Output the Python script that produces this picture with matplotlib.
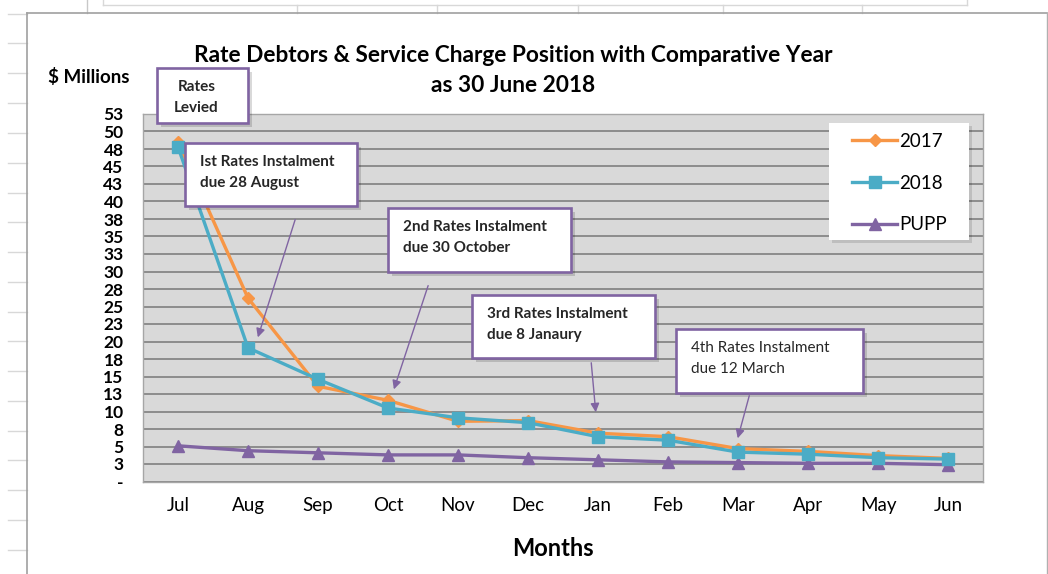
import matplotlib
matplotlib.use("Agg")
import matplotlib.pyplot as plt
from matplotlib.patches import Rectangle, FancyArrowPatch
from matplotlib.lines import Line2D
from matplotlib.ticker import FuncFormatter, MultipleLocator

# Data ($ millions)
months = ["Jul", "Aug", "Sep", "Oct", "Nov", "Dec", "Jan", "Feb", "Mar", "Apr", "May", "Jun"]
debt_2017 = [48.5, 26.2, 13.6, 11.6, 8.6, 8.7, 6.9, 6.4, 4.7, 4.3, 3.7, 3.3]
debt_2018 = [47.8, 19.1, 14.6, 10.5, 9.1, 8.4, 6.4, 5.9, 4.2, 3.9, 3.4, 3.2]
pupp = [5.1, 4.4, 4.1, 3.8, 3.8, 3.4, 3.1, 2.8, 2.7, 2.6, 2.6, 2.4]

colors = {
    '2017': '#F79646',
    '2018': '#4BACC6',
    'pupp': '#8064A2',
    'plotbg': '#D9D9D9',
    'grid': '#8C8C8C',
    'sheet': '#C8C8C8',
}

plt.rcParams['font.family'] = ['Lato', 'DejaVu Sans']

W, H = 1048, 574
fig = plt.figure(figsize=(W / 100, H / 100), dpi=100)


def px(x, y):
    # pixel position -> figure fraction
    return (x / W, 1 - y / H)


# spreadsheet cell lines behind the chart
for yy in [14, 43, 73, 103, 133, 163, 193, 222, 252, 282, 312, 341, 371, 401, 431, 460, 490, 520, 550]:
    fig.add_artist(Line2D([8 / W, 27 / W], [1 - yy / H] * 2, color='#D8D8D8', lw=1))
fig.add_artist(Line2D([87 / W] * 2, [1, 1 - 13 / H], color=colors['sheet'], lw=1))
fig.add_artist(Line2D([103 / W, 967 / W], [1 - 5 / H] * 2, color='#D8D8D8', lw=1))
fig.add_artist(Line2D([103 / W] * 2, [1, 1 - 5 / H], color='#D8D8D8', lw=1))
fig.add_artist(Line2D([967 / W] * 2, [1, 1 - 5 / H], color='#D8D8D8', lw=1))
for xx in [297, 437, 578, 723, 862]:
    fig.add_artist(Line2D([xx / W] * 2, [1 - 5 / H, 1 - 13 / H], color='#D8D8D8', lw=1))
# chart area border
fig.add_artist(Line2D([27 / W, 1047 / W], [1 - 13 / H] * 2, color='#A0A0A0', lw=1.2))
fig.add_artist(Line2D([27 / W] * 2, [1 - 13 / H, 0], color='#A0A0A0', lw=1.2))
fig.add_artist(Line2D([1046.5 / W] * 2, [1 - 13 / H, 0], color='#B0B0B0', lw=1.0))

# plot area
ax = fig.add_axes([143 / W, 1 - 481.5 / H, 840 / W, 367.5 / H])
ax.set_facecolor(colors['plotbg'])
x = list(range(len(months)))

ax.plot(x, debt_2017, color=colors['2017'], lw=2.4, marker='D', markersize=6.5, label='2017', zorder=3)
ax.plot(x, debt_2018, color=colors['2018'], lw=2.4, marker='s', markersize=8.5, label='2018', zorder=4)
ax.plot(x, pupp, color=colors['pupp'], lw=2.4, marker='^', markersize=9, label='PUPP', zorder=3)

ax.set_xlim(-0.5, len(months) - 0.5)
ax.set_ylim(0, 52.5)
ax.set_xticks(x)
ax.set_xticklabels(months, fontsize=13.5)
ax.yaxis.set_major_locator(MultipleLocator(2.5))
ax.yaxis.set_major_formatter(FuncFormatter(lambda v, p: '-' if abs(v) < 1e-9 else str(int(v + 0.5))))
for lab in ax.get_yticklabels():
    lab.set_fontweight('bold')
ax.tick_params(axis='y', length=0, pad=14, labelsize=12.5)
ax.tick_params(axis='x', length=0, pad=11)
ax.grid(axis='y', color=colors['grid'], lw=1.4)
ax.set_axisbelow(True)
for s in ax.spines.values():
    s.set_color('#A6A6A6')
    s.set_linewidth(1.0)

# titles and axis labels
fig.text(*px(513, 55), "Rate Debtors & Service Charge Position with Comparative Year",
         ha='center', va='center', fontsize=16.3, fontweight='bold')
fig.text(*px(513, 86), "as 30 June 2018", ha='center', va='center', fontsize=16.3, fontweight='bold')
fig.text(*px(89, 77), "$ Millions", ha='center', va='center', fontsize=13.5, fontweight='bold')
fig.text(*px(553, 549), "Months", ha='center', va='center', fontsize=17, fontweight='bold')

# legend box
lx0, ly0 = px(829, 240)
fig.add_artist(Rectangle((lx0 + 3 / W, ly0 - 3 / H), 140 / W, 117 / H, facecolor='#000000', alpha=0.12,
                         edgecolor='none', zorder=3.5))
fig.add_artist(Rectangle((lx0, ly0), 140 / W, 117 / H, facecolor='white', edgecolor='none', zorder=4))
leg = fig.legend(loc='upper left', bbox_to_anchor=px(852, 133), frameon=False, fontsize=13.5,
                 handlelength=2.4, handletextpad=0.1, labelspacing=1.32, borderaxespad=0,
                 borderpad=0)
leg.set_zorder(5)

# callout boxes
callouts = [
    ((157, 68, 248, 123), ["Rates", "Levied"], 'center', 'bold'),
    ((185, 143, 357, 206), ["Ist Rates Instalment", "due 28 August"], 'left', 'bold'),
    ((388, 208, 571, 272), ["2nd Rates Instalment", "due 30 October"], 'left', 'bold'),
    ((472, 295, 655, 358), ["3rd Rates Instalment", "due 8 Janaury"], 'left', 'bold'),
    ((676, 329, 863, 393), ["4th Rates Instalment", "due 12 March"], 'left', 'normal'),
]
for (x0, y0, x1, y1), lines, align, weight in callouts:
    bx, by = px(x0, y1)
    bw, bh = (x1 - x0) / W, (y1 - y0) / H
    fig.add_artist(Rectangle((bx + 4 / W, by - 4 / H), bw, bh, facecolor='#000000', alpha=0.15,
                             edgecolor='none', zorder=5.5))
    fig.add_artist(Rectangle((bx, by), bw, bh, facecolor='white', edgecolor=colors['pupp'],
                             lw=1.9, zorder=6))
    if align == 'center':
        tx = (x0 + x1) / 2 - 6
    else:
        tx = x0 + 15
    ty = y0 + 19
    for line in lines:
        fig.text(*px(tx, ty), line, ha=align, va='center', fontsize=11, fontweight=weight,
                 color='#262626', zorder=7)
        ty += 21

# arrows from the instalment boxes
arrows = [((296, 217), (257, 340)), ((429, 283), (393, 392)),
          ((591, 360), (596, 415)), ((750, 393), (737, 441))]
for a, b in arrows:
    fig.add_artist(FancyArrowPatch(px(*a), px(*b), transform=fig.transFigure, arrowstyle='-|>',
                                   mutation_scale=13, color=colors['pupp'], lw=1.0, zorder=6))

fig.savefig("out.png", dpi=100)
